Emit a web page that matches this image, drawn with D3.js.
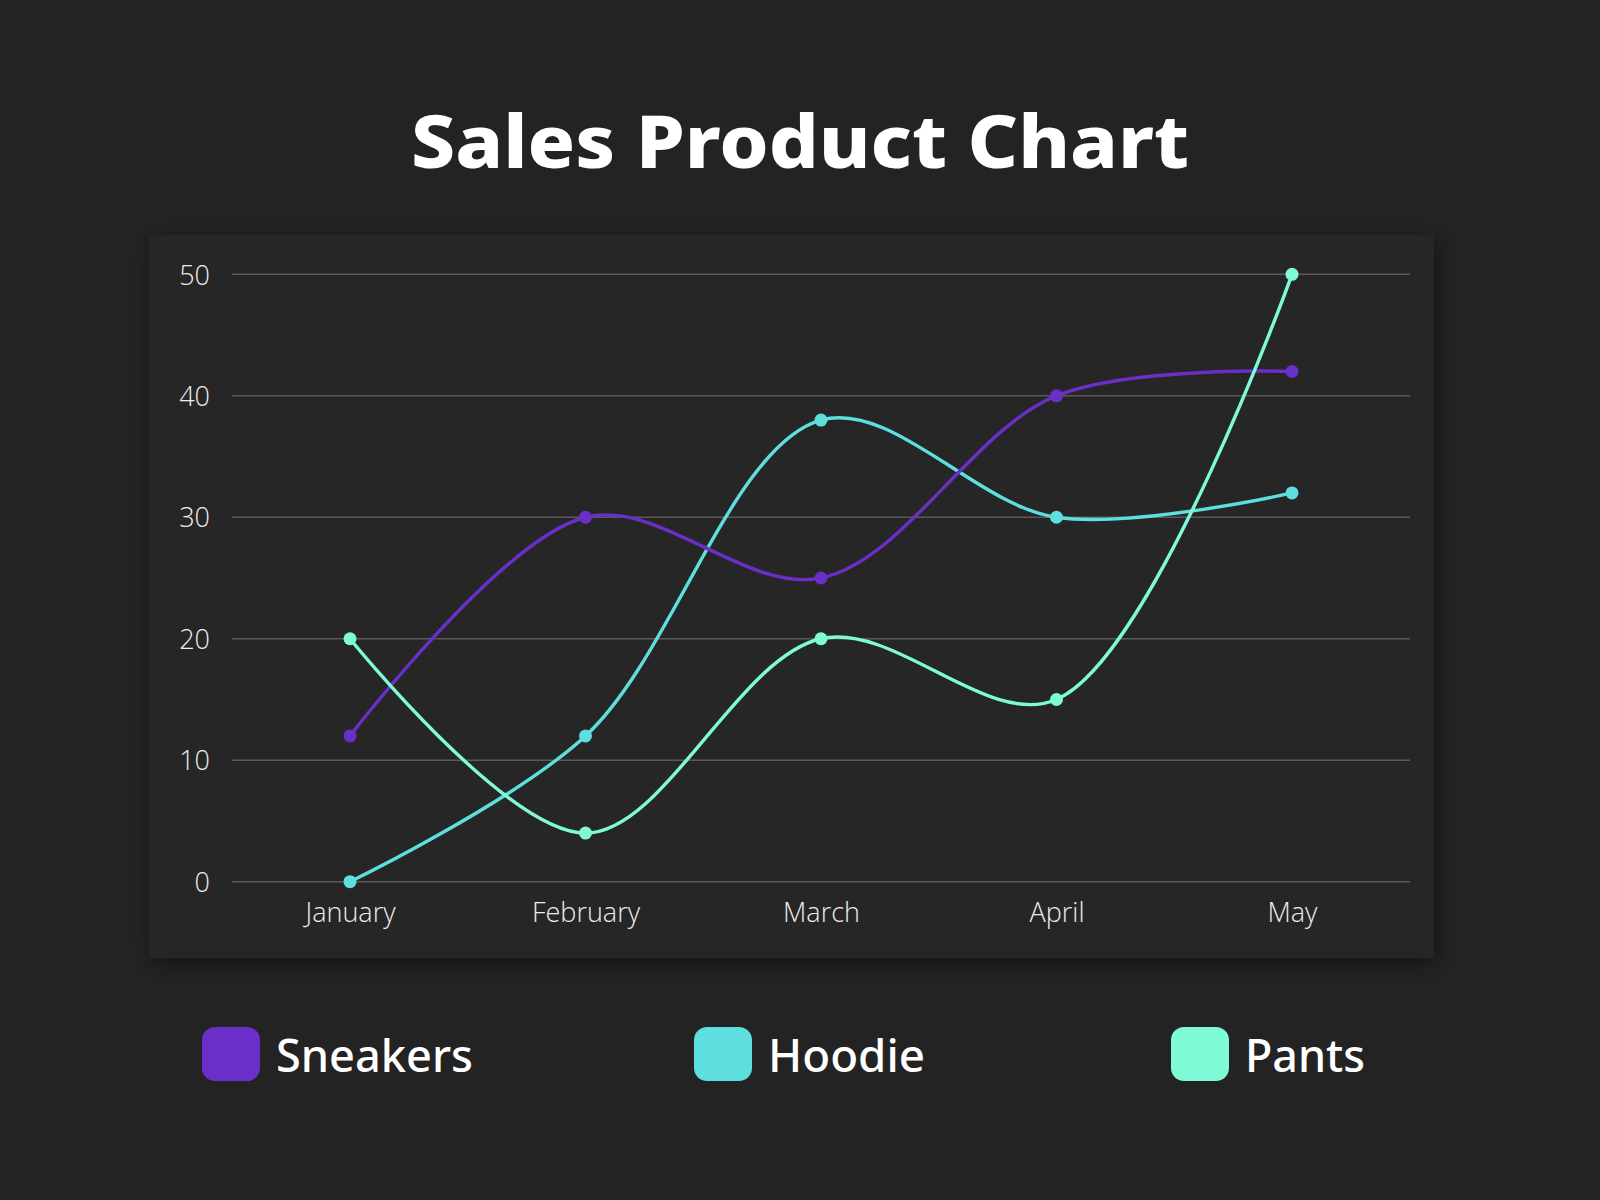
<!DOCTYPE html>
<html>
<head>
<meta charset="utf-8">
<script src="https://cdn.jsdelivr.net/npm/d3@7"></script>
<style>
  html, body { margin: 0; padding: 0; background: #232323; }
  svg { display: block; }
</style>
</head>
<body>
<div id="chart"></div>
<script>
    // data
    const months = ['January', 'February', 'March', 'April', 'May'];
    const sneakers = [12, 30, 25, 40, 42];
    const hoodie = [0, 12, 38, 30, 32];
    const pants = [20, 4, 20, 15, 50];
    const yTicks = [0, 10, 20, 30, 40, 50];
    const seriesNames = ['Sneakers', 'Hoodie', 'Pants'];

    let purple = '#6a2fc8',
        cyan = '#5edfdf',
        mint = '#7efbd6';

    let w = 1600,
        h = 1200;

    let svg = d3.select('#chart')
        .append('svg')
        .attr('width', w)
        .attr('height', h);

    svg.append('rect')
        .attr('width', w)
        .attr('height', h)
        .attr('fill', '#232323');

    // panel shadow
    let defs = svg.append('defs');
    let f = defs.append('filter')
        .attr('id', 'shadow')
        .attr('x', '-10%').attr('y', '-10%')
        .attr('width', '120%').attr('height', '125%');
    f.append('feDropShadow')
        .attr('dx', 3)
        .attr('dy', 5)
        .attr('stdDeviation', 10)
        .attr('flood-color', '#000')
        .attr('flood-opacity', 0.45);

    svg.append('rect')
        .attr('x', 149)
        .attr('y', 235)
        .attr('width', 1285)
        .attr('height', 723)
        .attr('fill', '#252525')
        .attr('filter', 'url(#shadow)');

    // title
    svg.append('text')
        .attr('x', 800)
        .attr('y', 168)
        .attr('text-anchor', 'middle')
        .attr('fill', '#ffffff')
        .attr('font-family', "'Noto Sans', 'DejaVu Sans', sans-serif")
        .attr('font-weight', 800)
        .attr('font-size', 74)
        .attr('textLength', 778)
        .attr('lengthAdjust', 'spacingAndGlyphs')
        .text('Sales Product Chart');

    const x = d3.scalePoint()
        .domain(months)
        .range([350, 1292]);

    const y = d3.scaleLinear()
        .domain([0, 50])
        .range([881.7, 274.3]);

    // gridlines
    svg.append('g')
        .selectAll('line')
        .data(yTicks).enter()
        .append('line')
        .attr('x1', 232)
        .attr('x2', 1410)
        .attr('y1', d => y(d))
        .attr('y2', d => y(d))
        .attr('stroke', '#5a5a5a')
        .attr('stroke-width', 1.5);

    // y axis labels
    let yAxis = svg.append('g')
        .attr('transform', 'translate(210,0)')
        .call(d3.axisLeft(y).tickValues(yTicks).tickSize(0).tickPadding(0));
    yAxis.select('.domain').remove();
    yAxis.selectAll('text')
        .attr('fill', '#ececec')
        .attr('font-family', "'Open Sans', sans-serif")
        .attr('font-weight', 300)
        .attr('font-size', 27)
        .attr('dy', '0.36em');

    // x axis labels
    let xAxis = svg.append('g')
        .attr('transform', 'translate(0,922)')
        .call(d3.axisBottom(x).tickSize(0).tickPadding(0));
    xAxis.select('.domain').remove();
    xAxis.selectAll('text')
        .attr('fill', '#ececec')
        .attr('font-family', "'Open Sans', sans-serif")
        .attr('font-weight', 300)
        .attr('font-size', 27)
        .attr('dy', 0);

    let line = d3.line()
        .x((d, i) => x(months[i]))
        .y(d => y(d))
        .curve(d3.curveCatmullRom.alpha(0.5));

    let drawSeries = (vals, color) => {
        svg.append('path')
            .datum(vals)
            .attr('d', line)
            .attr('fill', 'none')
            .attr('stroke', color)
            .attr('stroke-width', 3.4);
        svg.append('g')
            .selectAll('circle')
            .data(vals).enter()
            .append('circle')
            .attr('cx', (d, i) => x(months[i]))
            .attr('cy', d => y(d))
            .attr('r', 6.5)
            .attr('fill', color);
    }

    drawSeries(hoodie, cyan);
    drawSeries(sneakers, purple);
    drawSeries(pants, mint);

    // legend
    const legendX = [202, 694, 1171];
    const legendW = [197, 157, 120];
    const colors = [purple, cyan, mint];

    let legend = svg.append('g')
        .selectAll('g')
        .data(seriesNames).enter()
        .append('g')
        .attr('transform', (d, i) => `translate(${legendX[i]},1027)`);

    legend.append('rect')
        .attr('width', 58)
        .attr('height', 54)
        .attr('rx', 13)
        .attr('fill', (d, i) => colors[i]);

    legend.append('text')
        .attr('x', 74)
        .attr('y', 45)
        .attr('fill', '#ffffff')
        .attr('font-family', "'Noto Sans', 'DejaVu Sans', sans-serif")
        .attr('font-weight', 500)
        .attr('font-size', 45)
        .attr('textLength', (d, i) => legendW[i])
        .attr('lengthAdjust', 'spacingAndGlyphs')
        .text(d => d);
</script>
</body>
</html>
